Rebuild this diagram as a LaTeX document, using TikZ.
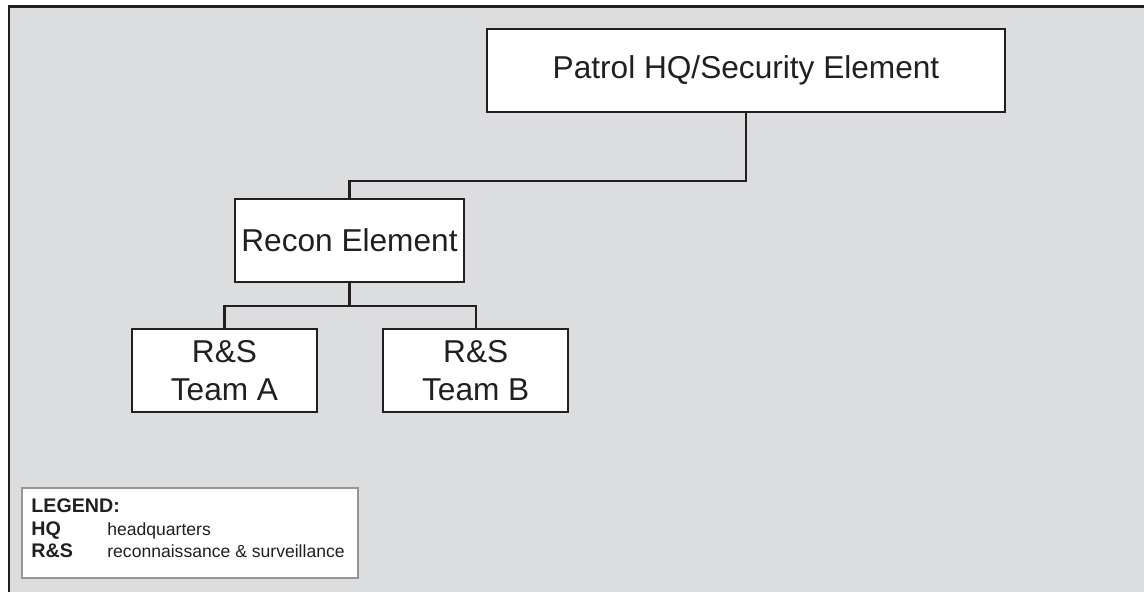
\documentclass[tikz,border=0pt]{standalone}
\usepackage{fontspec}
\setmainfont{Liberation Sans}
\usetikzlibrary{positioning}
\definecolor{panelgray}{RGB}{220,221,222}
\definecolor{inkdark}{RGB}{35,31,32}
\definecolor{legendrule}{RGB}{150,150,150}

\begin{document}
\begin{tikzpicture}[x=0.02cm, y=-0.02cm,
  unit/.style={draw=inkdark, line width=1.3pt, fill=white, text=inkdark, minimum height=1.66cm, inner sep=0pt, align=center, font=\fontsize{18}{21.5}\selectfont},
  link/.style={draw=inkdark, line width=1.3pt},
  legtext/.style={anchor=base west, inner sep=0pt, text=inkdark, font=\fontsize{10}{12}\selectfont},
  legkey/.style={legtext, font=\fontsize{11.2}{13}\selectfont\bfseries}]
  \useasboundingbox (0,0) rectangle (1144,592);
  \fill[panelgray] (9,6.5) rectangle (1144,592);
  \draw[inkdark, line width=1.7pt] (9,592) -- (9,6.5) -- (1144,6.5);
  \node[unit, minimum width=10.36cm] (hq) at (746,70.5) {Patrol HQ/Security Element};
  \node[unit, minimum width=4.58cm] (recon) at (349.5,240.5) {Recon Element};
  \node[unit, minimum width=3.7cm] (teama) at (224.5,370.5) {R\&S\\Team A};
  \node[unit, minimum width=3.7cm, right=1.28cm of teama] (teamb) {R\&S\\Team B};
  \draw[link] (hq.south) -- ++(0,68) -| (recon.north);
  \draw[link] (recon.south) -- ++(0,23) -| (teama.north);
  \draw[link] (recon.south) -- ++(0,23) -| (teamb.north);
  \node[draw=legendrule, line width=1.2pt, fill=white, minimum width=6.72cm, minimum height=1.8cm, inner sep=0pt, anchor=north west] (legend) at (21,487) {};
  \node[legkey] (legtitle) at (31,512) {LEGEND:};
  \node[legkey] (hqkey) at (31,535) {HQ};
  \node[legtext] (hqdesc) at (107,535) {headquarters};
  \node[legkey] (rskey) at (31,557) {R\&S};
  \node[legtext] (rsdesc) at (107,557) {reconnaissance \& surveillance};
\end{tikzpicture}
\end{document}
